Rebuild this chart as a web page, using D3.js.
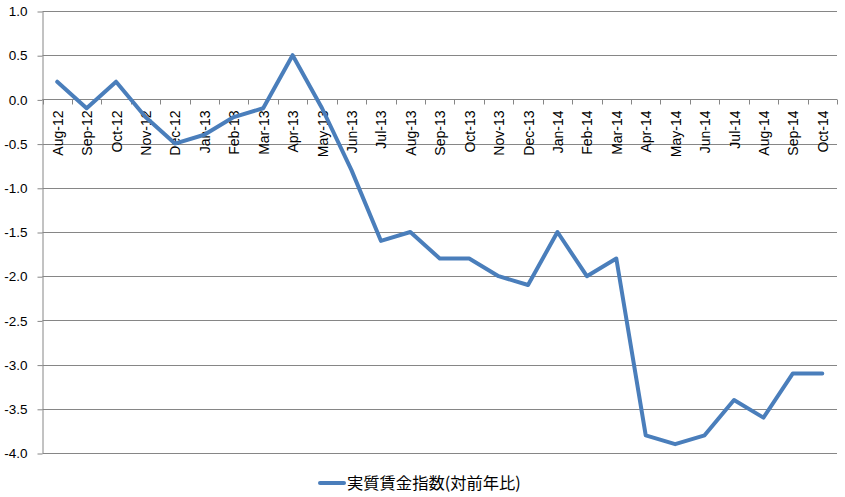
<!DOCTYPE html>
<html><head><meta charset="utf-8">
<script src="https://cdn.jsdelivr.net/npm/d3@7"></script>
<style>body{margin:0;background:#fff;} svg{display:block;}</style>
</head><body>
<svg id="c" width="845" height="497"></svg>
<script>
const categories = ["Aug-12","Sep-12","Oct-12","Nov-12","Dec-12","Jan-13","Feb-13","Mar-13","Apr-13","May-13","Jun-13","Jul-13","Aug-13","Sep-13","Oct-13","Nov-13","Dec-13","Jan-14","Feb-14","Mar-14","Apr-14","May-14","Jun-14","Jul-14","Aug-14","Sep-14","Oct-14"];
const values = [0.2,-0.1,0.2,-0.2,-0.5,-0.4,-0.2,-0.1,0.5,-0.1,-0.8,-1.6,-1.5,-1.8,-1.8,-2.0,-2.1,-1.5,-2.0,-1.8,-3.8,-3.9,-3.8,-3.4,-3.6,-3.1,-3.1];
const yTicks = [1.0,0.5,0.0,-0.5,-1.0,-1.5,-2.0,-2.5,-3.0,-3.5,-4.0];
const seriesName = "実質賃金指数(対前年比)";

const svg = d3.select("#c");
const L = 42.5, R = 837, T = 11, B = 453;
const x = d3.scaleBand().domain(categories).range([L, R]);
const y = d3.scaleLinear().domain([-4, 1]).range([B, T]);
const grid = "#868686";

// gridlines
svg.append("g").selectAll("line").data(yTicks).join("line")
  .attr("x1", L).attr("x2", R)
  .attr("y1", d => Math.round(y(d)) + 0.5).attr("y2", d => Math.round(y(d)) + 0.5)
  .attr("stroke", grid).attr("stroke-width", 1);

// y axis
const ya = svg.append("g").attr("transform", `translate(${L},0)`)
  .call(d3.axisLeft(y).tickValues(yTicks).tickFormat(d3.format(".1f")).tickSizeOuter(0).tickSizeInner(5));
ya.select(".domain").attr("stroke", grid);
ya.selectAll(".tick line").attr("stroke", grid).attr("transform", "translate(0,0.5)");
ya.selectAll(".tick text").attr("x", -15).attr("font-family", "Liberation Sans, Arial, sans-serif")
  .attr("font-size", 13.5).attr("fill", "#000").attr("dy", "0.35em").text(d => d3.format(".1f")(d).replace("−","-"));

// x axis at 0
const y0 = Math.round(y(0)) + 0.5;
const xa = svg.append("g").attr("transform", `translate(0,${y0})`);
xa.append("line").attr("x1", L).attr("x2", R).attr("stroke", grid);
const bounds = categories.map(c => x(c)).concat([R]);
xa.selectAll("line.tk").data(bounds).join("line").attr("class","tk")
  .attr("x1", d => Math.round(d) + 0.5).attr("x2", d => Math.round(d) + 0.5)
  .attr("y1", 0).attr("y2", 5).attr("stroke", grid);
xa.selectAll("text").data(categories).join("text")
  .attr("transform", d => `translate(${x(d) + x.bandwidth()/2 + 5.5},11) rotate(-90)`)
  .attr("text-anchor", "end")
  .attr("font-family", "Liberation Sans, Arial, sans-serif")
  .attr("font-size", 14).attr("fill", "#000")
  .text(d => d);

// line
const line = d3.line().x((d, i) => x(categories[i]) + x.bandwidth()/2).y(d => y(d));
svg.append("path").datum(values).attr("d", line)
  .attr("fill", "none").attr("stroke", "#4a7ebb").attr("stroke-width", 4)
  .attr("stroke-linejoin", "round").attr("stroke-linecap", "round");

// legend
const lg = svg.append("g").attr("transform", "translate(320,483)");
lg.append("line").attr("x1", 0).attr("x2", 24).attr("y1", 0).attr("y2", 0)
  .attr("stroke", "#4a7ebb").attr("stroke-width", 4).attr("stroke-linecap", "round");
lg.append("text").attr("x", 27).attr("y", 0).attr("dy", "0.35em")
  .attr("font-family", "Noto Sans CJK JP, sans-serif").attr("font-size", 16.3).attr("fill", "#000")
  .text(seriesName);
</script>
</body></html>
